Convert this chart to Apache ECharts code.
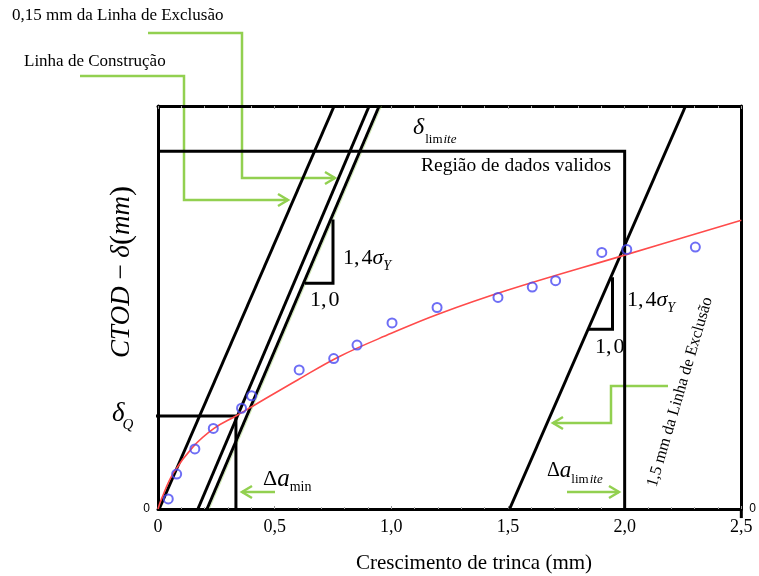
<!DOCTYPE html>
<html>
<head>
<meta charset="utf-8">
<script src="https://cdn.jsdelivr.net/npm/echarts@6/dist/echarts.min.js"></script>
<style>
  html, body { margin: 0; padding: 0; background: #fff; }
  #chart { width: 759px; height: 576px; }
</style>
</head>
<body>
<div id="chart"></div>
<script>
// Axis ticks (crack growth, mm)
const xTicks = [0, 0.5, 1.0, 1.5, 2.0, 2.5];
const xTickLabels = ['0', '0,5', '1,0', '1,5', '2,0', '2,5'];

// Measured points: crack growth (mm) and CTOD (mm)
const crackGrowth = [0.044, 0.080, 0.158, 0.237, 0.358, 0.401, 0.605, 0.753, 0.853,
                     1.003, 1.196, 1.457, 1.604, 1.704, 1.902, 2.009, 2.303];
const ctodMeasured = [0.030, 0.104, 0.179, 0.240, 0.300, 0.337, 0.414, 0.448, 0.488,
                      0.554, 0.600, 0.630, 0.661, 0.680, 0.764, 0.773, 0.780];

// Fitted resistance curve
const fitX = [0, 0.015, 0.065, 0.15, 0.24, 0.334, 0.42, 0.6, 0.78, 1.0, 1.2, 1.5, 2.0, 2.5];
const fitY = [0, 0.030, 0.106, 0.185, 0.240, 0.277, 0.312, 0.385, 0.455, 0.523, 0.580, 0.652, 0.756, 0.860];

// Construction and exclusion lines (end points in mm)
const constructionLine = [[0.005, 0], [0.755, 1.2]];
const exclusion015Line = [[0.171, 0], [0.905, 1.2]];
const offsetLine = [[0.210, 0], [0.948, 1.2]];
const offsetLineTrace = [[0.220, 0], [0.958, 1.2]];
const exclusion15Line = [[1.507, 0], [2.261, 1.2]];

// Limits
const deltaQ = 0.277;
const deltaAmin = 0.334;
const deltaLimit = 1.065;
const deltaAlimit = 2.0;

// Slope triangles (1,0 : 1,4 sigma_Y)
const slopeTriangleLeft = [[0.63, 0.672], [0.75, 0.672], [0.75, 0.862]];
const slopeTriangleRight = [[1.845, 0.535], [1.948, 0.535], [1.948, 0.69]];

const SERIF = '"Liberation Serif", "Times New Roman", serif';
const GREEN = '#92d050';

const chart = echarts.init(document.getElementById('chart'), null, { renderer: 'canvas' });

function blackLine(data, width, clip) {
  return {
    type: 'line', data: data, symbol: 'none', silent: true, clip: clip !== false,
    lineStyle: { color: '#000', width: width || 3, join: 'miter', cap: 'butt' },
    z: 2
  };
}

const tickLabelFmt = v => {
  const i = xTicks.findIndex(t => Math.abs(t - v) < 1e-9);
  return i >= 0 ? xTickLabels[i] : '';
};

const baseX = {
  type: 'value', min: 0, max: 2.5, interval: 0.5,
  axisLine: { show: true, onZero: false, lineStyle: { color: '#000', width: 3 } },
  axisTick: { show: true, inside: true, length: 3, lineStyle: { color: '#999', width: 1 } },
  minorTick: { show: true, splitNumber: 5, length: 2, lineStyle: { color: '#aaa', width: 1 } },
  splitLine: { show: false }
};

const baseY = {
  type: 'value', min: 0, max: 1.2, interval: 1.2,
  axisLine: { show: true, onZero: false, lineStyle: { color: '#000', width: 3 } },
  axisTick: { show: false },
  splitLine: { show: false },
  axisLabel: {
    formatter: v => (v === 0 ? '0' : ''),
    fontFamily: '"Liberation Sans", Arial, sans-serif', fontSize: 12, color: '#000',
    verticalAlign: 'middle', padding: [0, 0, 7, 0], margin: 8
  }
};

chart.setOption({
  animation: false,
  backgroundColor: '#fff',
  grid: { left: 158, right: 17, top: 106, bottom: 67 },
  xAxis: [
    Object.assign({}, baseX, {
      position: 'bottom',
      axisLabel: { formatter: tickLabelFmt, fontFamily: SERIF, fontSize: 18, color: '#000', margin: 9 }
    }),
    Object.assign({}, baseX, { position: 'top', axisLabel: { show: false } })
  ],
  yAxis: [
    Object.assign({}, baseY, { position: 'left' }),
    Object.assign({}, baseY, { position: 'right' })
  ],
  series: [
    blackLine(constructionLine),
    Object.assign(blackLine(offsetLineTrace, 1), { lineStyle: { color: GREEN, width: 1, opacity: 0.45 } }),
    blackLine(exclusion015Line),
    blackLine(offsetLine),
    blackLine(exclusion15Line),
    blackLine([[-0.064, deltaQ], [deltaAmin, deltaQ], [deltaAmin, 0]], 3, false),
    blackLine([[0, deltaLimit], [deltaAlimit, deltaLimit], [deltaAlimit, 0]]),
    blackLine(slopeTriangleLeft),
    blackLine(slopeTriangleRight),
    blackLine([[2.5, 0], [2.5, -0.027]], 3, false),
    {
      type: 'line', smooth: 0.4, symbol: 'none', silent: true,
      data: fitX.map((x, i) => [x, fitY[i]]),
      lineStyle: { color: '#ff4b4b', width: 1.6 },
      z: 3
    },
    {
      type: 'scatter', silent: true, symbol: 'circle', symbolSize: 9,
      data: crackGrowth.map((x, i) => [x, ctodMeasured[i]]),
      itemStyle: { color: 'rgba(0,0,0,0)', borderColor: '#4a4af2', borderWidth: 2 },
      z: 4
    }
  ]
});

// ---- annotations ----
const mctx = document.createElement('canvas').getContext('2d');
function textWidth(font, s) { mctx.font = font; return mctx.measureText(s).width; }

function formula(x, y, pieces) {
  const els = [];
  let cx = x;
  pieces.forEach(p => {
    const font = (p.italic ? 'italic ' : '') + p.size + 'px ' + SERIF;
    cx += (p.gap || 0);
    els.push({
      type: 'text', x: cx, y: y + (p.dy || 0), silent: true,
      style: { text: p.t, font: font, fill: '#000', align: 'left', verticalAlign: 'middle' }
    });
    cx += textWidth(font, p.t);
  });
  return els;
}

function plainText(x, y, text, size, opts) {
  opts = opts || {};
  return {
    type: 'text', x: x, y: y, rotation: opts.rotation || 0, silent: true,
    style: {
      text: text, font: (opts.italic ? 'italic ' : '') + size + 'px ' + SERIF,
      fill: '#000', align: opts.align || 'left', verticalAlign: 'middle'
    }
  };
}

function callout(points, dir) {
  const tip = points[points.length - 1];
  const s = dir === 'right' ? -1 : 1;
  return [
    { type: 'polyline', silent: true, shape: { points: points },
      style: { stroke: GREEN, lineWidth: 2.5, fill: null } },
    { type: 'polyline', silent: true,
      shape: { points: [[tip[0] + s * 10, tip[1] - 6], tip, [tip[0] + s * 10, tip[1] + 6]] },
      style: { stroke: GREEN, lineWidth: 2.5, fill: null } }
  ];
}

const graphics = [].concat(
  plainText(12, 16, '0,15 mm da Linha de Exclusão', 17),
  plainText(24, 62, 'Linha de Construção', 17),
  callout([[148, 33], [242, 33], [242, 178], [335, 178]], 'right'),
  callout([[80, 76], [184, 76], [184, 200], [288, 200]], 'right'),
  callout([[275, 492], [242, 492]], 'left'),
  callout([[668, 386], [611, 386], [611, 423], [553, 423]], 'left'),
  callout([[567, 492], [619, 492]], 'right'),
  plainText(421, 166, 'Região de dados validos', 19.5),
  plainText(680, 392, '1,5 mm da Linha de Exclusão', 16.5, { align: 'center', rotation: 73.5 * Math.PI / 180 }),
  plainText(474, 563, 'Crescimento de trinca (mm)', 21, { align: 'center' }),
  {
    type: 'text', x: 122, y: 272, rotation: Math.PI / 2, silent: true,
    style: {
      text: '{i|CTOD}{u| − }{i|δ}{p|(}{i|mm}{p|)}',
      align: 'center', verticalAlign: 'middle', fill: '#000',
      rich: {
        i: { fontFamily: SERIF, fontStyle: 'italic', fontSize: 27, fill: '#000' },
        u: { fontFamily: SERIF, fontSize: 27, fill: '#000' },
        p: { fontFamily: SERIF, fontSize: 30, fill: '#000' }
      }
    }
  },
  formula(413, 128, [
    { t: 'δ', size: 24, italic: true },
    { t: 'lim', size: 13, dy: 12, gap: 1 },
    { t: 'ite', size: 13, italic: true, dy: 12, gap: 1 }
  ]),
  formula(112, 414, [
    { t: 'δ', size: 27, italic: true },
    { t: 'Q', size: 15, italic: true, dy: 11, gap: -2 }
  ]),
  formula(263, 479, [
    { t: 'Δ', size: 22 },
    { t: 'a', size: 25, italic: true },
    { t: 'min', size: 14, dy: 8 }
  ]),
  formula(547, 471, [
    { t: 'Δ', size: 20 },
    { t: 'a', size: 23, italic: true },
    { t: 'lim', size: 13, dy: 9 },
    { t: 'ite', size: 13, italic: true, dy: 9, gap: 1 }
  ]),
  formula(343, 258, [
    { t: '1,', size: 22 },
    { t: '4', size: 22, gap: 2 },
    { t: 'σ', size: 22, italic: true },
    { t: 'Y', size: 14, italic: true, dy: 8 }
  ]),
  formula(310, 300, [{ t: '1,', size: 22 }, { t: '0', size: 22, gap: 2 }]),
  formula(627, 300, [
    { t: '1,', size: 22 },
    { t: '4', size: 22, gap: 2 },
    { t: 'σ', size: 22, italic: true },
    { t: 'Y', size: 14, italic: true, dy: 8 }
  ]),
  formula(595, 347, [{ t: '1,', size: 22 }, { t: '0', size: 22, gap: 2 }])
);

chart.setOption({ graphic: { elements: graphics } });
</script>
</body>
</html>
